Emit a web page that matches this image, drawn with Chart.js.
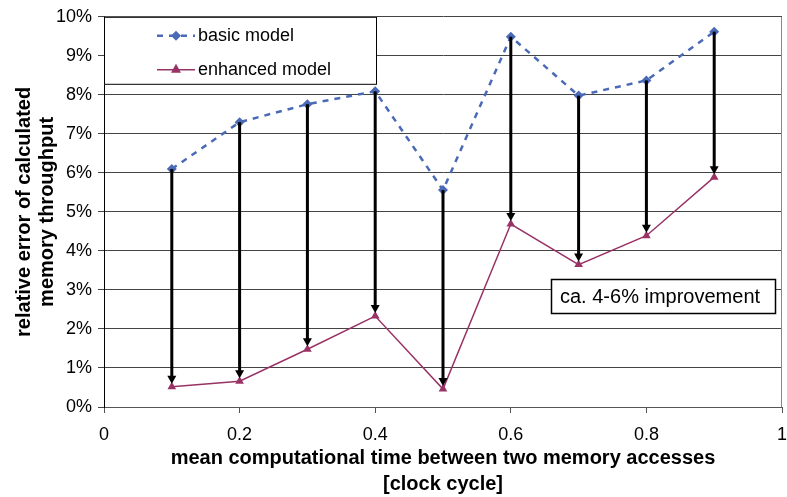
<!DOCTYPE html>
<html>
<head>
<meta charset="utf-8">
<script src="https://cdn.jsdelivr.net/npm/chart.js@4"></script>
<style>
  html, body { margin: 0; padding: 0; background: #fff; }
  #wrap { width: 787px; height: 497px; }
</style>
</head>
<body>
<div id="wrap"><canvas id="errChart" width="787" height="497"></canvas></div>
<script>
// values (percent)
const xValues = [0.1, 0.2, 0.3, 0.4, 0.5, 0.6, 0.7, 0.8, 0.9];
const basicModel = [6.10, 7.30, 7.76, 8.09, 5.56, 9.49, 7.98, 8.37, 9.62];
const enhancedModel = [0.52, 0.66, 1.48, 2.33, 0.46, 4.69, 3.65, 4.39, 5.89];
const seriesNames = ['basic model', 'enhanced model'];
const noteText = 'ca. 4-6% improvement';

const blue = '#4A6AB8';
const plum = '#993366';
const font = 'Liberation Sans, Arial, sans-serif';

const toPoints = (ys) => xValues.map((x, i) => ({ x: x, y: ys[i] }));

// arrows from basic to enhanced, legend box and note box
const extras = {
    id: 'extras',
    afterDatasetsDraw(chart) {
        const ctx = chart.ctx;
        const xs = chart.scales.x, ys = chart.scales.y;
        const area = chart.chartArea;
        ctx.save();

        // right border of plot area
        ctx.strokeStyle = '#888';
        ctx.lineWidth = 1;
        ctx.beginPath();
        ctx.moveTo(Math.round(area.right) - 0.5, area.top);
        ctx.lineTo(Math.round(area.right) - 0.5, area.bottom);
        ctx.stroke();

        // arrows
        ctx.strokeStyle = '#000';
        ctx.fillStyle = '#000';
        xValues.forEach((x, i) => {
            const px = xs.getPixelForValue(x);
            const y1 = ys.getPixelForValue(basicModel[i]);
            const y2 = ys.getPixelForValue(enhancedModel[i]) - 3;
            ctx.lineWidth = 3;
            ctx.beginPath();
            ctx.moveTo(px, y1);
            ctx.lineTo(px, y2 - 6);
            ctx.stroke();
            ctx.beginPath();
            ctx.moveTo(px - 4.5, y2 - 8);
            ctx.lineTo(px + 4.5, y2 - 8);
            ctx.lineTo(px, y2);
            ctx.closePath();
            ctx.fill();
        });

        // legend box
        const lx = area.left, ly = area.top;
        ctx.fillStyle = '#fff';
        ctx.fillRect(lx, ly, 273, 68);
        ctx.strokeStyle = '#000';
        ctx.lineWidth = 1;
        ctx.strokeRect(lx + 0.5, ly + 0.5, 272, 67);

        ctx.font = '18px ' + font;
        ctx.textBaseline = 'middle';
        ctx.fillStyle = '#000';

        // basic model entry
        let ry = ly + 19;
        ctx.strokeStyle = blue;
        ctx.lineWidth = 2.5;
        ctx.setLineDash([6, 6]);
        ctx.beginPath();
        ctx.moveTo(lx + 53, ry);
        ctx.lineTo(lx + 91, ry);
        ctx.stroke();
        ctx.setLineDash([]);
        ctx.fillStyle = blue;
        ctx.beginPath();
        ctx.moveTo(lx + 72, ry - 5);
        ctx.lineTo(lx + 77, ry);
        ctx.lineTo(lx + 72, ry + 5);
        ctx.lineTo(lx + 67, ry);
        ctx.closePath();
        ctx.fill();
        ctx.fillStyle = '#000';
        ctx.fillText(seriesNames[0], lx + 94, ry);

        // enhanced model entry
        ry = ly + 53;
        ctx.strokeStyle = plum;
        ctx.lineWidth = 1.5;
        ctx.beginPath();
        ctx.moveTo(lx + 53, ry);
        ctx.lineTo(lx + 91, ry);
        ctx.stroke();
        ctx.fillStyle = plum;
        ctx.beginPath();
        ctx.moveTo(lx + 72, ry - 6);
        ctx.lineTo(lx + 77, ry + 3);
        ctx.lineTo(lx + 67, ry + 3);
        ctx.closePath();
        ctx.fill();
        ctx.fillStyle = '#000';
        ctx.fillText(seriesNames[1], lx + 94, ry);

        // note box
        const nx = Math.round(xs.getPixelForValue(0.659)), ny = Math.round(ys.getPixelForValue(3.27));
        ctx.fillStyle = '#fff';
        ctx.fillRect(nx, ny, 224, 34);
        ctx.strokeStyle = '#000';
        ctx.strokeRect(nx + 0.5, ny + 0.5, 224, 34);
        ctx.font = '20px ' + font;
        ctx.fillStyle = '#000';
        ctx.fillText(noteText, nx + 9, ny + 18);

        ctx.restore();
    }
};

new Chart(document.getElementById('errChart'), {
    type: 'line',
    data: {
        datasets: [{
            label: seriesNames[0],
            data: toPoints(basicModel),
            borderColor: blue,
            backgroundColor: blue,
            borderWidth: 2.5,
            borderDash: [6, 6],
            pointStyle: 'rectRot',
            pointRadius: 5,
            pointBorderWidth: 0,
            tension: 0,
            order: 2
        }, {
            label: seriesNames[1],
            data: toPoints(enhancedModel),
            borderColor: plum,
            backgroundColor: plum,
            borderWidth: 1.5,
            pointStyle: 'triangle',
            pointRadius: 5,
            pointBorderWidth: 0,
            tension: 0,
            order: 1
        }]
    },
    options: {
        responsive: false,
        animation: false,
        layout: { padding: { top: 15, right: -2, left: 0, bottom: 0 } },
        plugins: {
            legend: { display: false },
            tooltip: { enabled: false }
        },
        scales: {
            x: {
                type: 'linear',
                min: 0,
                max: 1,
                ticks: {
                    stepSize: 0.2,
                    color: '#000',
                    padding: 11,
                    font: { family: font, size: 18 },
                    callback: v => String(Math.round(v * 10) / 10)
                },
                grid: { drawOnChartArea: false, drawTicks: true, tickLength: 6, color: '#555' },
                border: { color: '#555', width: 1 },
                title: {
                    display: true,
                    text: ['mean computational time between two memory accesses', '[clock cycle]'],
                    color: '#000',
                    font: { family: font, size: 20, weight: 'bold', lineHeight: 1.3 },
                    padding: { top: -2, bottom: 0 }
                },
                afterFit: s => { s.height = 90; s.paddingRight = 0; }
            },
            y: {
                min: 0,
                max: 10,
                ticks: {
                    stepSize: 1,
                    color: '#000',
                    padding: 6,
                    font: { family: font, size: 18 },
                    callback: v => v + '%'
                },
                grid: { color: '#444', tickLength: 6 },
                border: { color: '#000', width: 1 },
                title: {
                    display: true,
                    text: ['relative error of calculated', 'memory throughput'],
                    color: '#000',
                    font: { family: font, size: 20, weight: 'bold', lineHeight: 1.15 },
                    padding: { top: 13, bottom: 0 }
                },
                afterFit: s => { s.width = 104; }
            }
        }
    },
    plugins: [extras]
});
</script>
</body>
</html>
